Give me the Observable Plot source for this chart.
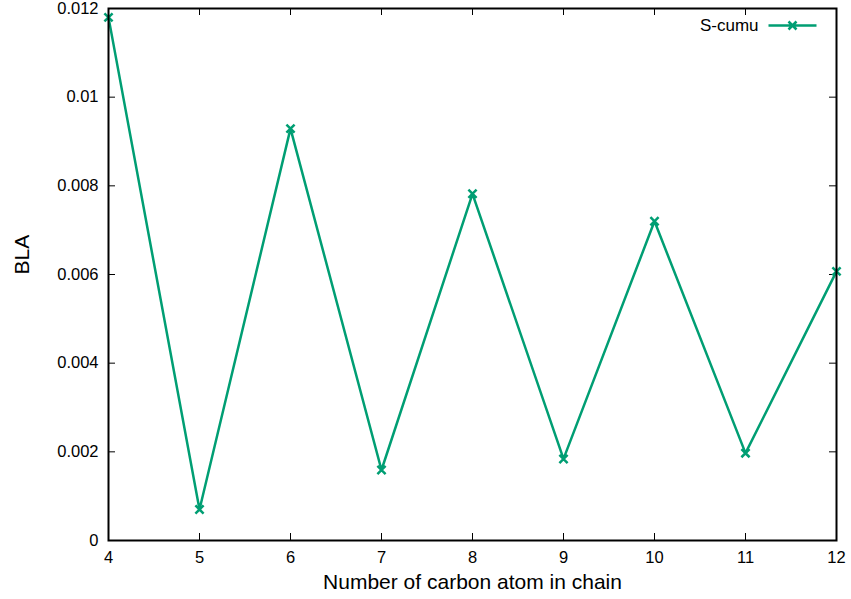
<!DOCTYPE html>
<html>
<head>
<meta charset="utf-8">
<script src="https://cdn.jsdelivr.net/npm/d3@7"></script>
<script src="https://cdn.jsdelivr.net/npm/@observablehq/plot@0.6"></script>
<style>
  html, body { margin: 0; padding: 0; background: white; }
  #chart { width: 851px; height: 599px; }
</style>
</head>
<body>
<div id="chart"></div>
<script>
const carbons = [4, 5, 6, 7, 8, 9, 10, 11, 12];
const bla = [0.0118, 0.0007, 0.00929, 0.00159, 0.00782, 0.00184, 0.0072, 0.00197, 0.00607];
const seriesName = "S-cumu";
const xTicks = [4, 5, 6, 7, 8, 9, 10, 11, 12];
const yTicks = [0, 0.002, 0.004, 0.006, 0.008, 0.01, 0.012];
const yTickLabels = ["0", "0.002", "0.004", "0.006", "0.008", "0.01", "0.012"];
const xLabel = "Number of carbon atom in chain";
const yLabel = "BLA";

const color = "#009e73";
const data = carbons.map((c, i) => ({c, v: bla[i]}));

const W = 851, H = 599, mL = 108, mR = 15, mT = 8, mB = 59;
const plotW = W - mL - mR, plotH = H - mT - mB;
const tick = 7;

const legendSymbol = {
  draw(ctx, size) {
    ctx.moveTo(-24, 0); ctx.lineTo(24, 0);
    const s = 4;
    ctx.moveTo(-s, -s); ctx.lineTo(s, s);
    ctx.moveTo(-s, s); ctx.lineTo(s, -s);
  }
};

const chart = Plot.plot({
  width: W, height: H,
  marginLeft: mL, marginRight: mR, marginTop: mT, marginBottom: mB,
  style: {fontFamily: "'Liberation Sans', Arial, Helvetica, sans-serif", fontSize: "16px", background: "white", color: "black"},
  x: {domain: [4, 12]},
  y: {domain: [0, 0.012]},
  marks: [
    // tick labels
    Plot.axisX(xTicks, {anchor: "bottom", tickSize: 0, tickPadding: 11, label: null, fontSize: 16.5}),
    Plot.axisY(yTicks, {anchor: "left", tickSize: 0, tickPadding: 10, label: null, fontSize: 16.5,
      tickFormat: d => yTickLabels[yTicks.indexOf(d)]}),
    // inward ticks (mirrored)
    Plot.ruleX(xTicks, {x: d => d, insetTop: plotH - tick, stroke: "black", strokeWidth: 1}),
    Plot.ruleX(xTicks, {x: d => d, insetBottom: plotH - tick, stroke: "black", strokeWidth: 1}),
    Plot.ruleY(yTicks, {y: d => d, insetRight: plotW - tick, stroke: "black", strokeWidth: 1}),
    Plot.ruleY(yTicks, {y: d => d, insetLeft: plotW - tick, stroke: "black", strokeWidth: 1}),
    // data
    Plot.line(data, {x: "c", y: "v", stroke: color, strokeWidth: 2.5}),
    Plot.dot(data, {x: "c", y: "v", symbol: "times", r: 3.8, stroke: color, strokeWidth: 2.5}),
    Plot.frame({stroke: "black", strokeWidth: 2}),
    // axis labels
    Plot.text([xLabel], {frameAnchor: "bottom", dy: 42, fontSize: 21, lineAnchor: "middle"}),
    Plot.text([yLabel], {frameAnchor: "left", dx: -86, rotate: -90, fontSize: 21, lineAnchor: "middle"}),
    // legend
    Plot.text([seriesName], {frameAnchor: "top-right", dx: -78, dy: 17, textAnchor: "end", lineAnchor: "middle", fontSize: 17}),
    Plot.dot([seriesName], {frameAnchor: "top-right", dx: -44, dy: 17, symbol: legendSymbol, r: 4, stroke: color, strokeWidth: 2.5, fill: "none"})
  ]
});
document.getElementById("chart").appendChild(chart);
</script>
</body>
</html>
